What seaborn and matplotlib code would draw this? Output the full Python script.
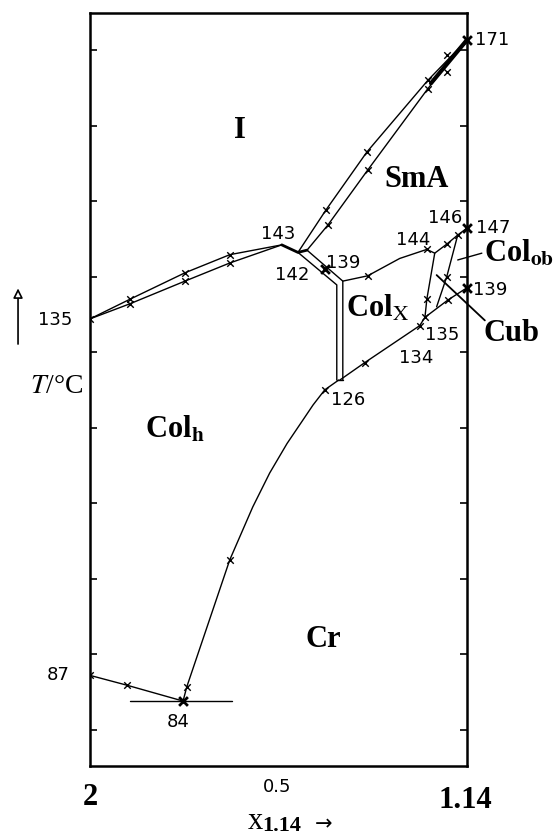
import matplotlib
matplotlib.use('Agg')
import matplotlib.pyplot as plt
import seaborn as sns

# ---- phase boundaries, x = mole fraction of 1.14, T in degC ----
# I / Col_h (double line)
ic_x = [0.0, 0.106, 0.252, 0.371, 0.509]
ic_top_t = [134.4, 137.0, 140.5, 142.9, 144.2]
ic_bot_t = [134.4, 136.4, 139.4, 141.8, 144.2]

# 143 -> 142
k_x = [0.509, 0.552, 0.576]
k_t = [144.2, 143.2, 143.5]

# I / SmA (double line, merging near 171)
ism_up_x = [0.552, 0.626, 0.735, 0.897, 1.0]
ism_up_t = [143.2, 148.8, 156.5, 166.0, 171.3]
ism_lo_x = [0.576, 0.631, 0.737, 0.897, 1.0]
ism_lo_t = [143.5, 146.8, 154.1, 164.9, 171.3]
ism_thick_x = [0.905, 1.0]
ism_thick_t = [165.6, 171.3]

# Col_h / Col_X (double line, vertical part down to 126)
cx_out_x = [0.552, 0.655, 0.655]
cx_out_t = [143.2, 138.9, 126.3]
cx_in_x = [0.576, 0.671, 0.671]
cx_in_t = [143.5, 139.4, 126.3]

# SmA / Col_X -> 144 -> 146 -> 147
sc_x = [0.671, 0.737, 0.822, 0.894, 0.915, 0.947, 0.976, 1.0]
sc_t = [139.4, 140.1, 142.4, 143.6, 143.1, 144.3, 145.5, 146.4]

# Col_X / Col_ob
ob_l_x = [0.915, 0.894, 0.889]
ob_l_t = [143.1, 137.0, 134.6]
# Col_ob / Cub
ob_r_x = [0.976, 0.947, 0.920]
ob_r_t = [145.5, 140.0, 136.0]

# Col_X / Cr -> 134 -> 135 -> 139
cr_x = [0.663, 0.729, 0.875, 0.889, 0.950, 1.0]
cr_t = [126.3, 128.6, 133.5, 134.6, 136.9, 138.5]

# Col_h / Cr
hc_x = [0.247, 0.257, 0.371, 0.432, 0.477, 0.523, 0.565, 0.592, 0.623, 0.660]
hc_t = [83.8, 85.7, 102.5, 109.5, 114.0, 117.9, 121.0, 123.0, 125.0, 126.3]

# 87 -> 84
e_x = [0.0, 0.098, 0.247]
e_t = [87.2, 85.9, 83.8]
eut_x = [0.106, 0.377]
eut_t = [83.8, 83.8]

# measured points (crosses)
pts_x = [0.0, 0.106, 0.106, 0.252, 0.252, 0.371, 0.371,
         0.626, 0.631, 0.735, 0.737, 0.897, 0.897, 0.947, 0.947,
         0.737, 0.894, 0.947, 0.976, 0.894, 0.947,
         0.729, 0.875, 0.889, 0.950,
         0.257, 0.371, 0.623, 0.098, 0.0]
pts_t = [134.4, 137.0, 136.4, 140.5, 139.4, 142.9, 141.8,
         148.8, 146.8, 156.5, 154.1, 166.0, 164.9, 169.3, 167.1,
         140.1, 143.6, 144.3, 145.5, 137.0, 140.0,
         128.6, 133.5, 134.6, 136.9,
         85.7, 102.5, 125.0, 85.9, 87.2]
# bold points
big_x = [0.623, 1.0, 1.0, 1.0, 0.247]
big_t = [141.0, 171.3, 146.4, 138.5, 83.8]

yticks = list(range(80, 171, 10))

sns.set_theme(style='white')
plt.rcParams['mathtext.fontset'] = 'stix'
plt.rcParams['font.family'] = ['DejaVu Sans']
plt.rcParams['text.color'] = 'black'

fig = plt.figure(figsize=(5.59, 8.38), dpi=100)
ax = fig.add_axes([0.161, 0.0859, 0.674, 0.8986])

def line(x, t, lw=1.0):
    sns.lineplot(x=x, y=t, sort=False, estimator=None, color='black',
                 linewidth=lw, ax=ax)

line(ic_x, ic_top_t)
line(ic_x, ic_bot_t)
line(k_x, k_t, 2.0)
line(ism_up_x, ism_up_t)
line(ism_lo_x, ism_lo_t)
line(ism_thick_x, ism_thick_t, 3.0)
line(cx_out_x, cx_out_t)
line(cx_in_x, cx_in_t)
line([0.655, 0.671], [126.3, 126.3])
line(sc_x, sc_t)
line(ob_l_x, ob_l_t)
line(ob_r_x, ob_r_t)
line(cr_x, cr_t)
line(hc_x, hc_t)
line(e_x, e_t)
line(eut_x, eut_t)

sns.scatterplot(x=pts_x, y=pts_t, marker='x', s=22, color='black',
                linewidth=1.0, ax=ax, zorder=3)
sns.scatterplot(x=big_x, y=big_t, marker='x', s=40, color='black',
                linewidth=2.0, ax=ax, zorder=3, clip_on=False)

# leader lines
ax.plot([0.920, 1.048], [140.2, 134.2], color='black', lw=1.3, clip_on=False)
ax.plot([0.976, 1.040], [142.2, 143.1], color='black', lw=1.0, clip_on=False)

ax.set_xlim(0, 1)
ax.set_ylim(75.2, 174.9)
ax.set_yticks(yticks)
ax.set_xticks([])
ax.tick_params(axis='y', which='both', direction='in', left=True, right=True,
               length=5, width=1.2, labelleft=False, color='black')
for s in ax.spines.values():
    s.set_linewidth(1.8)
    s.set_color('black')
ax.set_xlabel('')
ax.set_ylabel('')

# phase labels
ser = 'Liberation Serif'
big = dict(family=ser, fontweight='bold', fontsize=22, ha='center', va='center')
ax.text(0.398, 159.4, 'I', **big)
ax.text(0.867, 152.8, 'SmA', **big)
ax.text(0.225, 119.7, r'Col$_{\mathbf{h}}$', **big)
ax.text(0.764, 135.8, r'Col$_{\mathrm{X}}$', **big)
ax.text(0.618, 91.9, 'Cr', **big)
ax.text(1.045, 143.0, r'Col$_{\mathbf{ob}}$', family=ser, fontweight='bold',
        fontsize=22, ha='left', va='center')
ax.text(1.045, 132.5, 'Cub', family=ser, fontweight='bold', fontsize=22,
        ha='left', va='center')

# temperatures
num = dict(family='DejaVu Sans', fontsize=13, ha='center', va='center')
for tx, ty, s in [(1.066, 171.3, '171'), (0.499, 145.6, '143'),
                  (0.536, 140.2, '142'), (0.672, 141.8, '139'),
                  (0.857, 144.9, '144'), (0.942, 147.7, '146'),
                  (1.069, 146.4, '147'), (1.063, 138.2, '139'),
                  (0.936, 132.3, '135'), (0.867, 129.2, '134'),
                  (0.684, 123.6, '126'), (-0.093, 134.2, '135'),
                  (-0.085, 87.2, '87'), (0.233, 81.0, '84'),
                  (0.496, 72.4, '0.5')]:
    ax.text(tx, ty, s, **num)

# axis annotations
ax.annotate('', xy=(-0.191, 138.8), xytext=(-0.191, 130.7),
            arrowprops=dict(arrowstyle='-|>', color='black', lw=1.2,
                            fc='white', mutation_scale=14),
            annotation_clip=False)
ax.text(-0.088, 125.4, r'$T$/°C', family=ser, fontsize=20,
        ha='center', va='center')
ax.text(0.0, 71.0, '2', family=ser, fontweight='bold', fontsize=22,
        ha='center', va='center')
ax.text(0.995, 70.7, '1.14', family=ser, fontweight='bold', fontsize=22,
        ha='center', va='center')
ax.text(0.440, 67.9, 'x', family=ser, fontsize=22, ha='center', va='center')
ax.text(0.510, 67.3, '1.14', family=ser, fontweight='bold', fontsize=16,
        ha='center', va='center')
ax.text(0.620, 67.5, '→', family='DejaVu Sans', fontsize=15,
        ha='center', va='center')

fig.savefig('out.png', dpi=100)
